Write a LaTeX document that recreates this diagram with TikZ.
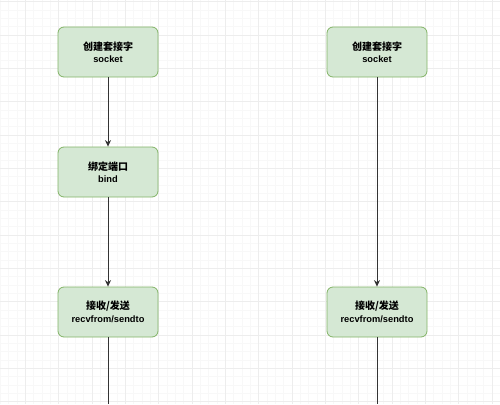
\documentclass[tikz,border=0pt]{standalone}
\usepackage{fontspec}
\setmainfont{Liberation Sans}
\newfontfamily\cjk{Noto Sans CJK SC}
\usetikzlibrary{positioning,arrows.meta}
\definecolor{stagefill}{HTML}{D5E8D4}
\definecolor{stageline}{HTML}{82B366}
\definecolor{flowline}{HTML}{333333}
\definecolor{gridminor}{HTML}{F8F8F8}
\definecolor{gridmajor}{HTML}{EDEDED}
\newcommand{\flowarrowstyle}{-{Stealth[length=6.5pt,width=6pt]}}

\begin{document}
\begin{tikzpicture}[
    x=1pt, y=-1pt,
    font=\fontsize{9.3}{12.5}\selectfont\bfseries,
    stage/.style={draw=stageline, fill=stagefill, line width=0.8pt, rounded corners=6pt,
      minimum width=100pt, minimum height=50pt, inner sep=0pt, align=center, text=black},
    flow/.style={\flowarrowstyle, draw=flowline, line width=1pt},
    flowline/.style={draw=flowline, line width=1pt},
    minorgrid/.style={draw=gridminor, line width=0.6pt},
    majorgrid/.style={draw=gridmajor, line width=0.6pt}
]
  \def\cell{8.333}
  \useasboundingbox[fill=white] (0,0) rectangle (500,404);
  \clip (0,0) rectangle (500,404);

  % background grid
  \foreach \i in {0,...,60} {
    \draw[minorgrid] ({0.3+\i*\cell},0) -- ({0.3+\i*\cell},404);
    \draw[minorgrid] (0,{1.7+\i*\cell}) -- (500,{1.7+\i*\cell});
  }
  \foreach \i in {0,...,15} {
    \draw[majorgrid] ({25.3+(\i-1)*4*\cell},0) -- ({25.3+(\i-1)*4*\cell},404);
    \draw[majorgrid] (0,{1.7+\i*4*\cell}) -- (500,{1.7+\i*4*\cell});
  }

  % left column
  \node[stage] (l-socket) at (108,52) {{\cjk\fontsize{10}{12.5}\selectfont\bfseries 创建套接字}\\socket};
  \node[stage] (l-bind) at (108,172) {{\cjk\fontsize{10}{12.5}\selectfont\bfseries 绑定端口}\\bind};
  \node[stage] (l-recv) at (108,312) {{\cjk\fontsize{10}{12.5}\selectfont\bfseries 接收/发送}\\recvfrom/sendto};
  \coordinate (l-end) at (108,404);

  % right column
  \node[stage] (r-socket) at (377,52) {{\cjk\fontsize{10}{12.5}\selectfont\bfseries 创建套接字}\\socket};
  \node[stage] (r-recv) at (377,312) {{\cjk\fontsize{10}{12.5}\selectfont\bfseries 接收/发送}\\recvfrom/sendto};
  \coordinate (r-end) at (377,404);

  \draw[flow] (l-socket.south) -- (l-bind.north);
  \draw[flow] (l-bind.south) -- (l-recv.north);
  \draw[flowline] (l-recv.south) -- (l-end);
  \draw[flow] (r-socket.south) -- (r-recv.north);
  \draw[flowline] (r-recv.south) -- (r-end);
\end{tikzpicture}
\end{document}
